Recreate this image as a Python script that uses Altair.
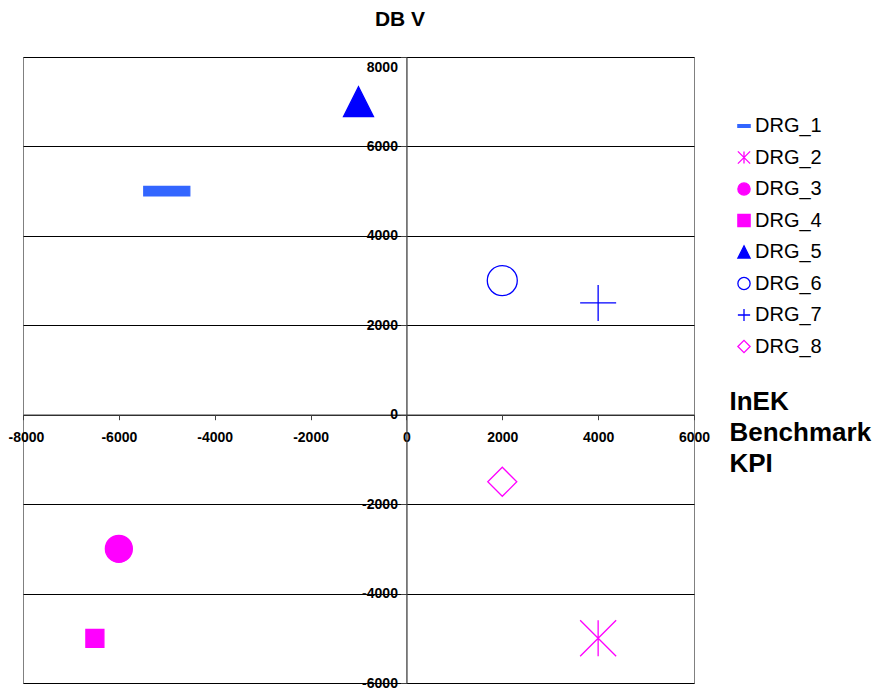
import altair as alt
import pandas as pd

# ---- data ----
series = ["DRG_1", "DRG_2", "DRG_3", "DRG_4", "DRG_5", "DRG_6", "DRG_7", "DRG_8"]
kpi = [-5000, 4000, -6000, -6500, -1000, 2000, 4000, 2000]   # InEK Benchmark KPI (x)
dbv = [5000, -5000, -3000, -5000, 7000, 3000, 2500, -1500]   # DB V (y)
x_ticks = [-8000, -6000, -4000, -2000, 0, 2000, 4000, 6000]
y_ticks = [-6000, -4000, -2000, 0, 2000, 4000, 6000, 8000]

# ---- styles ----
shapes = [
    "M-1,-0.21H1V0.21H-1Z",                 # dash
    "M0,-1V1M-1,-1L1,1M-1,1L1,-1",          # asterisk
    "circle",
    "square",
    "M0,-1L1,1H-1Z",                        # triangle
    "circle",
    "M-1,0H1M0,-1V1",                       # plus
    "diamond",
]
stroke_colors = ["#3366FF", "#FF00FF", "#FF00FF", "#FF00FF", "#0000FF", "#0000FF", "#0000FF", "#FF00FF"]
fill_colors = ["#3366FF", "transparent", "#FF00FF", "#FF00FF", "#0000FF", "transparent", "transparent", "transparent"]
sizes = [2116, 1296, 729, 324, 900, 900, 1296, 841]

FONT = "Liberation Sans"
W, H = 671, 626

df = pd.DataFrame({"series": series, "kpi": kpi, "dbv": dbv})

legend = alt.Legend(
    orient="none", legendX=711, legendY=59, title=None,
    labelFont=FONT, labelFontSize=20, labelColor="black",
    symbolSize=150, symbolStrokeWidth=1.3, rowPadding=11.5, labelOffset=1,
)

x_enc = alt.X(
    "kpi:Q",
    scale=alt.Scale(domain=[-8000, 6000], nice=False, zero=False),
    axis=alt.Axis(
        values=x_ticks, grid=False, offset=-(H * 6000 / 14000),
        labelExpr="datum.value + ''", labelFont=FONT, labelFontSize=14,
        labelFontWeight="bold", labelColor="black", labelPadding=11,
        labelFlush=False, labelOverlap=False,
        labelOffset={"condition": {"test": "datum.value === -8000", "value": 3}, "value": 0},
        domainColor="#404040", domainWidth=1.3, tickColor="#404040", tickSize=5,
        title=["InEK", "Benchmark", "KPI"], titleFont=FONT, titleFontSize=26,
        titleFontWeight="bold", titleColor="black", titleAlign="left",
        titleBaseline="alphabetic", titleX=706, titleY=-5, titleLineHeight=31,
        titleAngle=0,
    ),
)
y_enc = alt.Y(
    "dbv:Q",
    scale=alt.Scale(domain=[-6000, 8000], nice=False, zero=False),
    axis=alt.Axis(
        values=y_ticks, grid=True, gridColor="#000000", gridWidth=1,
        offset=-(W * 8000 / 14000),
        labelExpr="datum.value + ''", labelFont=FONT, labelFontSize=14,
        labelFontWeight="bold", labelColor="black", labelPadding=3,
        labelFlush=False, labelOverlap=False,
        labelOffset={"condition": {"test": "datum.value === 8000", "value": 10}, "value": 0},
        domainColor="#404040", domainWidth=1.3, tickColor="#404040", tickSize=6,
        title=None,
    ),
)

layers = []
for s, sz in zip(series, sizes):
    layers.append(
        alt.Chart(df).mark_point(opacity=1, strokeWidth=1.3, size=sz)
        .transform_filter(alt.datum.series == s)
        .encode(
            x=x_enc,
            y=y_enc,
            shape=alt.Shape("series:N", scale=alt.Scale(domain=series, range=shapes), legend=legend),
            fill=alt.Fill("series:N", scale=alt.Scale(domain=series, range=fill_colors), legend=legend),
            stroke=alt.Stroke("series:N", scale=alt.Scale(domain=series, range=stroke_colors), legend=legend),
        )
    )

chart = alt.layer(*layers).properties(
    width=W, height=H,
    autosize=alt.AutoSizeParams(type="none"),
    padding={"left": 15, "top": 49, "right": 182, "bottom": 7},
    title=alt.TitleParams(
        "DB V", font=FONT, fontSize=21, fontWeight="bold", color="black",
        anchor="middle", frame="group", dx=41.5, baseline="alphabetic", offset=10,
    ),
).configure_view(stroke="#808080", strokeWidth=1)

chart.save("out.html", embed_options={"renderer": "svg", "actions": False})
